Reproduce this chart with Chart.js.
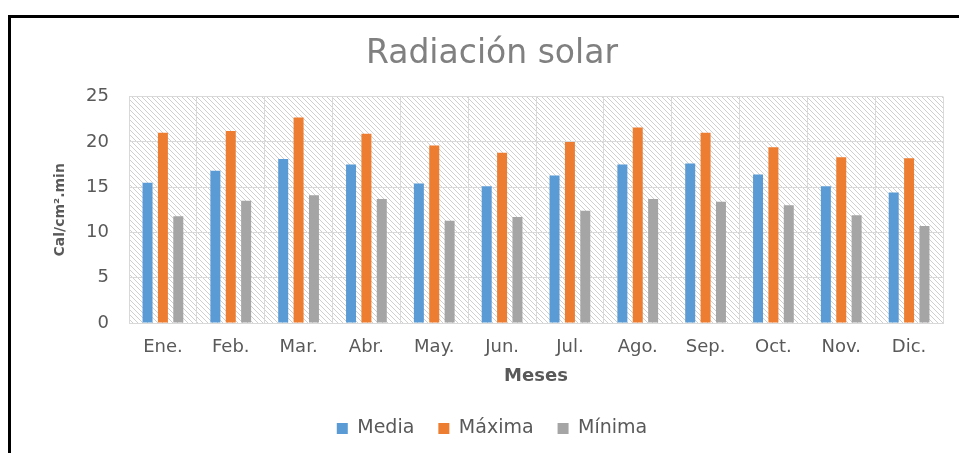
<!DOCTYPE html>
<html>
<head>
<meta charset="utf-8">
<script src="https://cdn.jsdelivr.net/npm/chart.js@4"></script>
<style>
  body { margin: 0; background: #fff; }
  #wrap { position: relative; width: 959px; height: 453px; overflow: hidden; }
  #marco { position: absolute; left: 8px; top: 15px; width: 1000px; height: 500px;
           border-top: 3px solid #000; border-left: 3px solid #000; }
  #grafico { position: absolute; left: 0; top: 0; }
</style>
</head>
<body>
<div id="wrap">
  <div id="marco"></div>
  <canvas id="grafico" width="959" height="453"></canvas>
</div>
<script>
// datos
const meses = ['Ene.', 'Feb.', 'Mar.', 'Abr.', 'May.', 'Jun.', 'Jul.', 'Ago.', 'Sep.', 'Oct.', 'Nov.', 'Dic.'];
const media = [15.5, 16.8, 18.1, 17.5, 15.4, 15.1, 16.3, 17.5, 17.6, 16.4, 15.1, 14.4];
const maxima = [21.0, 21.2, 22.7, 20.9, 19.6, 18.8, 20.0, 21.6, 21.0, 19.4, 18.3, 18.2];
const minima = [11.8, 13.5, 14.1, 13.7, 11.3, 11.7, 12.4, 13.7, 13.4, 13.0, 11.9, 10.7];
const ticksY = [0, 5, 10, 15, 20, 25];

const fuente = 'DejaVu Sans';
const gris = '#595959';
const rejilla = '#d9d9d9';

// trama diagonal del area del grafico
function crearTrama(ctx) {
    const s = 5;
    const c = document.createElement('canvas');
    c.width = s; c.height = s;
    const g = c.getContext('2d');
    g.fillStyle = '#fff';
    g.fillRect(0, 0, s, s);
    g.strokeStyle = '#cfcfcf';
    g.lineWidth = 1;
    g.beginPath();
    g.moveTo(-1, -1); g.lineTo(s + 1, s + 1);
    g.moveTo(-1, s - 1); g.lineTo(1, s + 1);
    g.moveTo(s - 1, -1); g.lineTo(s + 1, 1);
    g.stroke();
    return ctx.createPattern(c, 'repeat');
}

const fondoTrama = {
    id: 'fondoTrama',
    beforeDraw(chart) {
        const {ctx, chartArea} = chart;
        ctx.save();
        ctx.fillStyle = crearTrama(ctx);
        ctx.fillRect(chartArea.left, chartArea.top, chartArea.right - chartArea.left, chartArea.bottom - chartArea.top);
        ctx.restore();
    }
};

const ctx = document.getElementById('grafico');
new Chart(ctx, {
    type: 'bar',
    data: {
        labels: meses,
        datasets: [
            { label: 'Media', data: media, backgroundColor: '#5b9bd5' },
            { label: 'Máxima', data: maxima, backgroundColor: '#ed7d31' },
            { label: 'Mínima', data: minima, backgroundColor: '#a5a5a5' }
        ]
    },
    options: {
        responsive: false,
        animation: false,
        layout: { padding: { left: 41, right: 16, top: 0, bottom: 5 } },
        datasets: { bar: { categoryPercentage: 0.68, barPercentage: 0.65 } },
        plugins: {
            title: {
                display: true,
                text: 'Radiación solar',
                color: '#808080',
                font: { family: fuente, size: 33, weight: 'normal' },
                padding: { top: 35, bottom: 22 }
            },
            legend: {
                position: 'bottom',
                labels: {
                    boxWidth: 11,
                    boxHeight: 11,
                    padding: 24,
                    color: gris,
                    font: { family: fuente, size: 19 }
                }
            },
            tooltip: { enabled: false }
        },
        scales: {
            x: {
                afterFit(scale) { scale.height = 72; },
                grid: { color: rejilla, drawTicks: false, offset: true },
                border: { color: rejilla },
                ticks: { color: gris, padding: 14, font: { family: fuente, size: 18 } },
                title: {
                    display: true,
                    text: 'Meses',
                    color: gris,
                    font: { family: fuente, size: 18, weight: 'bold' },
                    padding: { top: 0, bottom: 8 }
                }
            },
            y: {
                min: 0,
                max: 25,
                afterBuildTicks(scale) { scale.ticks = ticksY.map(v => ({ value: v })); },
                afterFit(scale) { scale.width = 88; },
                grid: { color: rejilla, drawTicks: false },
                border: { color: rejilla },
                ticks: { color: gris, padding: 20, font: { family: fuente, size: 18 } },
                title: {
                    display: true,
                    text: 'Cal/cm².min',
                    color: gris,
                    font: { family: fuente, size: 14, weight: 'bold' },
                    padding: { top: 11, bottom: 0 }
                }
            }
        }
    },
    plugins: [fondoTrama]
});
</script>
</body>
</html>
